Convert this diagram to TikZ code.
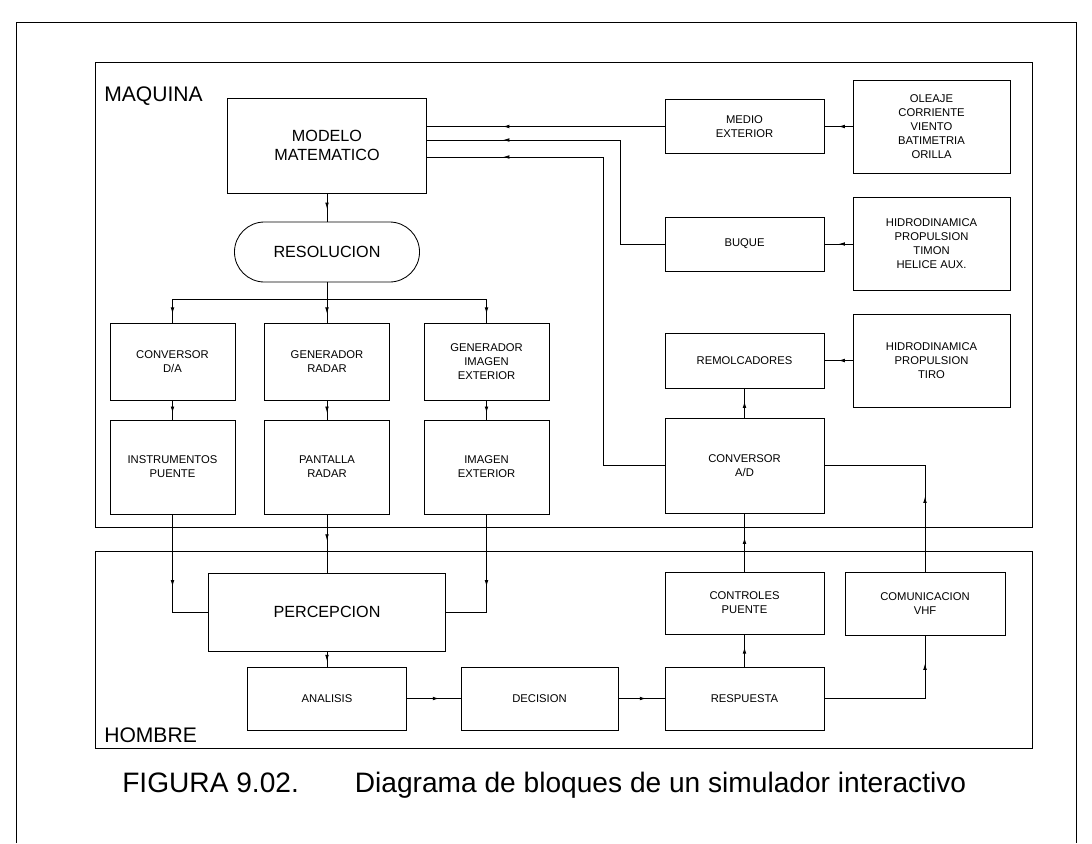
\documentclass[tikz,border=0pt]{standalone}
\usepackage{fontspec}
\setmainfont{Liberation Sans}
\usetikzlibrary{arrows.meta,decorations.markings}

\tikzset{
  blk/.style={draw, line width=.6pt, inner sep=0pt, align=center,
    font=\fontsize{8}{10}\selectfont},
  bigblk/.style={blk, font=\fontsize{11.5}{14}\selectfont},
  zone/.style={draw, line width=.6pt},
  zonelbl/.style={anchor=base west, inner sep=0pt, font=\fontsize{15}{18}\selectfont},
  link/.style={line width=.6pt},
  tipat/.style={link, postaction={decorate},
    decoration={markings, mark=at position #1 with {\arrow{Latex[length=4.5pt,width=2.6pt]}}}},
}

\begin{document}
\begin{tikzpicture}[x=0.025cm,y=-0.025cm]

\useasboundingbox (0,0) rectangle (1092,843);
\draw[link] (16,843) -- (16,22) -- (1076,22) -- (1076,843);

% zonas
\draw[zone] (95,62) rectangle (1032,527);
\draw[zone] (95,551) rectangle (1032,748);
\node[zonelbl] (maquina) at (104,101) {MAQUINA};
\node[zonelbl] (hombre) at (104,742) {HOMBRE};

% maquina
\node[bigblk, minimum width=4.975cm, minimum height=2.375cm] (modelo) at (327,145.5) {MODELO\\MATEMATICO};
\node[bigblk, rounded corners=0.75cm, minimum width=4.625cm, minimum height=1.5cm] (resol) at (327,252) {RESOLUCION};

\node[blk, minimum width=3.125cm, minimum height=1.925cm] (convda) at (172.5,361.5) {CONVERSOR\\D/A};
\node[blk, minimum width=3.125cm, minimum height=1.925cm] (genradar) at (327,361.5) {GENERADOR\\RADAR};
\node[blk, minimum width=3.125cm, minimum height=1.925cm] (genimagen) at (486.5,361.5) {GENERADOR\\IMAGEN\\EXTERIOR};

\node[blk, minimum width=3.125cm, minimum height=2.35cm] (instr) at (172.5,467) {INSTRUMENTOS\\PUENTE};
\node[blk, minimum width=3.125cm, minimum height=2.35cm] (pantalla) at (327,467) {PANTALLA\\RADAR};
\node[blk, minimum width=3.125cm, minimum height=2.35cm] (imagen) at (486.5,467) {IMAGEN\\EXTERIOR};

\node[blk, minimum width=3.975cm, minimum height=1.35cm] (medio) at (744.5,126.5) {MEDIO\\EXTERIOR};
\node[blk, minimum width=3.975cm, minimum height=1.35cm] (buque) at (744.5,244) {BUQUE};
\node[blk, minimum width=3.975cm, minimum height=1.375cm] (remolc) at (744.5,360.5) {REMOLCADORES};
\node[blk, minimum width=3.975cm, minimum height=2.375cm] (convad) at (744.5,465.5) {CONVERSOR\\A/D};

\node[blk, minimum width=3.925cm, minimum height=2.325cm] (oleaje) at (931.5,126.5) {OLEAJE\\CORRIENTE\\VIENTO\\BATIMETRIA\\ORILLA};
\node[blk, minimum width=3.925cm, minimum height=2.325cm] (hidrobuque) at (931.5,243.5) {HIDRODINAMICA\\PROPULSION\\TIMON\\HELICE AUX.};
\node[blk, minimum width=3.925cm, minimum height=2.325cm] (hidroremolc) at (931.5,360.5) {HIDRODINAMICA\\PROPULSION\\TIRO};

% hombre
\node[bigblk, minimum width=5.925cm, minimum height=1.95cm] (percep) at (327,612) {PERCEPCION};
\node[blk, minimum width=3.975cm, minimum height=1.575cm] (analisis) at (327,698.5) {ANALISIS};
\node[blk, minimum width=3.925cm, minimum height=1.575cm] (decision) at (539.5,698.5) {DECISION};
\node[blk, minimum width=3.975cm, minimum height=1.575cm] (respuesta) at (744.5,698.5) {RESPUESTA};
\node[blk, minimum width=3.975cm, minimum height=1.55cm] (controles) at (744.5,603) {CONTROLES\\PUENTE};
\node[blk, minimum width=4cm, minimum height=1.575cm] (vhf) at (925,603.5) {COMUNICACION\\VHF};

\coordinate (split) at (327,299);
\coordinate (bendB) at (620,140);
\coordinate (bendC) at (603,157);

% entradas al modelo
\draw[tipat=0.5] (oleaje.west) -- (medio.east);
\draw[tipat=0.5] (hidrobuque.west |- buque) -- (buque.east);
\draw[tipat=0.5] (hidroremolc.west) -- (remolc.east);
\draw[tipat=-1.9cm] (medio.west) -- (medio.west -| modelo.east);
\draw[tipat=-1.9cm] (buque.west) -| (bendB) -- (bendB -| modelo.east);
\draw[tipat=-1.9cm] (convad.west) -| (bendC) -- (bendC -| modelo.east);

% resolucion y salidas
\draw[tipat=0.55] (modelo.south) -- (resol.north);
\draw[link] (resol.south) -- (split);
\draw[tipat=-0.22cm] (split) -| (convda.north);
\draw[tipat=-0.22cm] (split) -- (genradar.north);
\draw[tipat=-0.22cm] (split) -| (genimagen.north);
\draw[tipat=0.65] (convda.south) -- (instr.north);
\draw[tipat=0.65] (genradar.south) -- (pantalla.north);
\draw[tipat=0.65] (genimagen.south) -- (imagen.north);

% percepcion
\draw[tipat=1.8cm] (instr.south) |- (percep.west);
\draw[tipat=0.45] (pantalla.south) -- (percep.north);
\draw[tipat=1.8cm] (imagen.south) |- (percep.east);
\draw[tipat=0.65] (percep.south) -- (analisis.north);
\draw[tipat=0.6] (analisis.east) -- (decision.west);
\draw[tipat=0.6] (decision.east) -- (respuesta.west);

% respuesta
\draw[tipat=0.6] (respuesta.north) -- (controles.south);
\draw[tipat=-0.7cm] (respuesta.east) -| (vhf.south);
\draw[tipat=0.85cm] (controles.north) -- (convad.south);
\draw[tipat=1.875cm] (vhf.north) |- (convad.east);
\draw[tipat=0.55] (convad.north) -- (remolc.south);

\node[anchor=base west, inner sep=0pt, font=\fontsize{20}{24}\selectfont] (caption) at (122,792)
  {FIGURA 9.02.\hspace{1.4cm}Diagrama de bloques de un simulador interactivo};

\end{tikzpicture}
\end{document}
